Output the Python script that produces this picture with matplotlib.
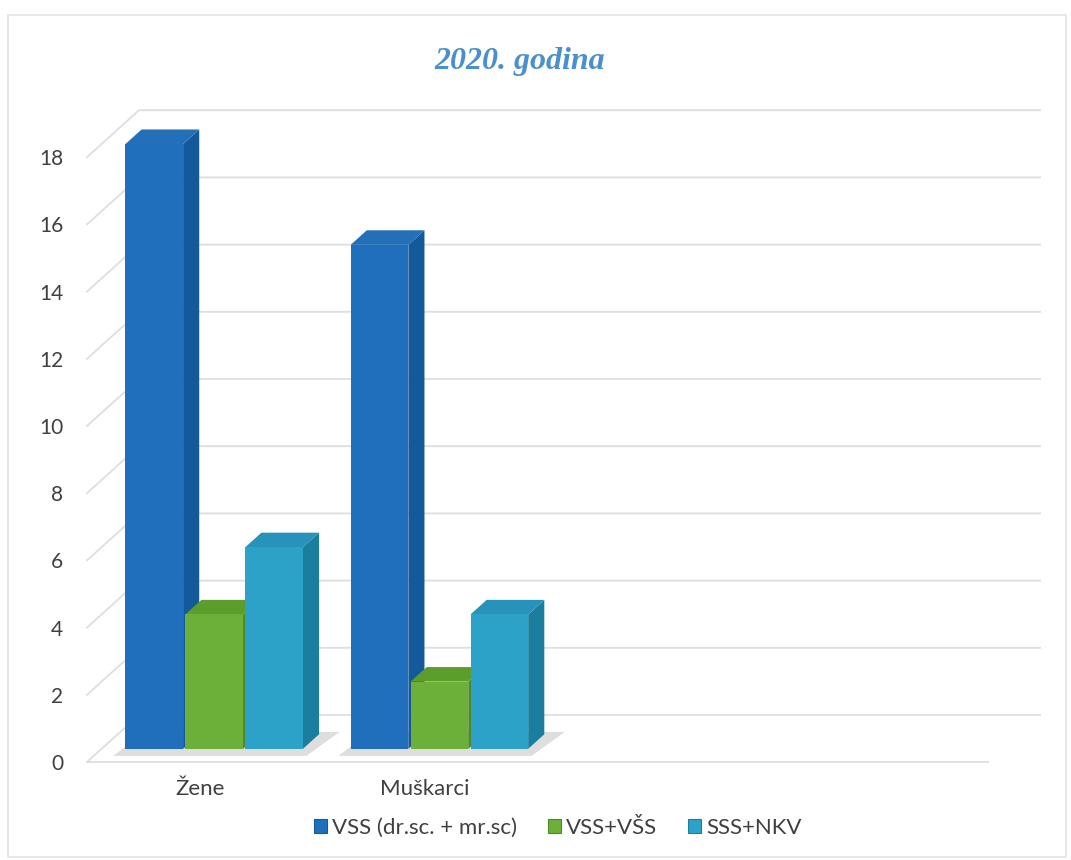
import matplotlib
matplotlib.use("Agg")
import matplotlib.pyplot as plt
from matplotlib.patches import Polygon, Rectangle, Patch

# ---- data -------------------------------------------------------------
categories = ["Žene", "Muškarci"]
series_names = ["VSS (dr.sc. + mr.sc)", "VSS+VŠS", "SSS+NKV"]
vss_dr_mr = [18, 15]
vss_vss = [4, 2]
sss_nkv = [6, 4]
y_ticks = [0, 2, 4, 6, 8, 10, 12, 14, 16, 18]
title = "2020. godina"

series_values = [vss_dr_mr, vss_vss, sss_nkv]
# (front, side, top) shades for each series
series_colors = [
    ("#1f6fbd", "#145a9a", "#2470b8"),
    ("#6cb039", "#4c8a22", "#5c9e2c"),
    ("#2ca2c9", "#1a7f9f", "#2792ba"),
]

# ---- figure / axes (front plane of the 3-D box) ----------------------
W, H = 1071, 860
AX_L, AX_R, AX_B = 87, 988, 762
PX_Y = 33.6
fig = plt.figure(figsize=(W / 100, H / 100), dpi=100)
fig.patch.set_facecolor("white")
ax = fig.add_axes([AX_L / W, (H - AX_B) / H, (AX_R - AX_L) / W, 20 * PX_Y / H])
ax.set_xlim(-0.5, 3.5)
ax.set_ylim(0, 20)
for s in ax.spines.values():
    s.set_visible(False)
ax.patch.set_alpha(0)

px_x = (AX_R - AX_L) / 4.0   # pixels per category unit
px_y = PX_Y                  # pixels per value unit
DX, DY = 52.0, 47.0          # full depth of the box in pixels


def pt(x, y, d):
    """Point (x, y) pushed back to depth d (0 = front, 1 = back wall)."""
    return (x + d * DX / px_x, y + d * DY / px_y)


grid_c = "#dedede"
x0, x1 = -0.5, 3.5

# front edge of the floor
ax.plot([pt(x0, 0, 0)[0], pt(x1, 0, 0)[0]], [0, 0], color=grid_c, lw=1.3,
        zorder=2, clip_on=False)

# gridlines: left wall diagonal + back wall horizontal
for v in y_ticks:
    a, b, c = pt(x0, v, 0), pt(x0, v, 1), pt(x1, v, 1)
    ax.plot([a[0], b[0], c[0]], [a[1], b[1], c[1]], color=grid_c, lw=1.3,
            zorder=2, clip_on=False)

# ---- 3-D bars --------------------------------------------------------
d_front, d_back = 0.28, 0.59
step, width = 0.266, 0.256
n = len(series_values)
z = 10
for ci in range(len(categories)):
    centre = ci
    left_g = centre - step * (n - 1) / 2 - width / 2
    right_g = centre + step * (n - 1) / 2 + width / 2
    # soft shadow on the floor under the group
    sh = Polygon([pt(left_g - 0.02, 0, d_front - 0.15), pt(right_g + 0.05, 0, d_front - 0.15),
                  pt(right_g + 0.08, 0, d_back + 0.05), pt(left_g, 0, d_back + 0.05)],
                 closed=True, facecolor="#c4c4c4", edgecolor="none", alpha=0.55,
                 zorder=3)
    ax.add_patch(sh)
    for si in range(n):
        v = series_values[si][ci]
        front_c, side_c, top_c = series_colors[si]
        xl = centre + (si - (n - 1) / 2) * step - width / 2
        xr = xl + width
        side = Polygon([pt(xr, 0, d_front), pt(xr, 0, d_back),
                        pt(xr, v, d_back), pt(xr, v, d_front)],
                       closed=True, facecolor=side_c, edgecolor="none", zorder=z)
        top = Polygon([pt(xl, v, d_front), pt(xr, v, d_front),
                       pt(xr, v, d_back), pt(xl, v, d_back)],
                      closed=True, facecolor=top_c, edgecolor="none", zorder=z + 1)
        ax.add_patch(side)
        ax.add_patch(top)
        fx, fy = pt(xl, 0, d_front)
        ax.bar(fx, v, width=width, bottom=fy, align="edge", color=front_c,
               edgecolor="none", zorder=z + 2)
        z += 3

ax.set_xlim(-0.5, 3.5)
ax.set_ylim(0, 20)

# ---- ticks -----------------------------------------------------------
ax.set_yticks(y_ticks)
ax.set_yticklabels([str(t) for t in y_ticks], family="Lato", size=15,
                   color="#404040")
ax.set_xticks(range(len(categories)))
ax.set_xticklabels(categories, family="Lato", size=16, color="#404040")
ax.tick_params(axis="y", length=0, pad=17)
ax.tick_params(axis="x", length=0, pad=12)

# ---- title -----------------------------------------------------------
fig.text(520 / W, 1 - 62 / H, title, ha="center", va="center",
         family="Liberation Serif", style="italic", weight="bold",
         size=23, color="#4a90cc")

# ---- legend ----------------------------------------------------------
handles = [Patch(facecolor=c[0], edgecolor=c[1], linewidth=0.8, label=name)
           for c, name in zip(series_colors, series_names)]
leg = fig.legend(handles=handles, loc="center", ncol=3,
                 bbox_to_anchor=(558 / W, 1 - 828 / H), frameon=False,
                 prop=dict(family="Lato", size=16),
                 handlelength=0.55, handleheight=0.55, handletextpad=0.25,
                 columnspacing=1.4)
for t in leg.get_texts():
    t.set_color("#404040")

# ---- chart frame -----------------------------------------------------
fig.add_artist(Rectangle((8 / W, 3 / H), 1058 / W, 842 / H,
                         transform=fig.transFigure, fill=False,
                         edgecolor="#e3e3e3", linewidth=1.2))

fig.savefig("out.png", dpi=100)
